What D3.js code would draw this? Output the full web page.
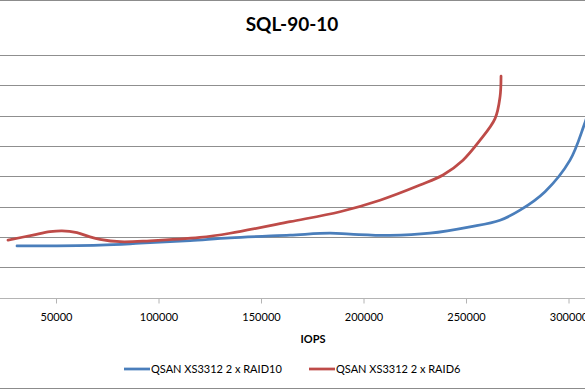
<!DOCTYPE html>
<html>
<head>
<meta charset="utf-8">
<script src="https://d3js.org/d3.v7.min.js"></script>
<style>
  body { margin: 0; background: #fff; }
  svg { display: block; font-family: Lato, "Open Sans", sans-serif; }
</style>
</head>
<body>
<div id="chart"></div>
<script>
// Data (IOPS vs response time)
const raid10Iops = [30975, 71460, 90980, 115360, 134880, 164150, 183660, 193420, 212930, 232440, 251950, 266600, 276350, 288550, 300740, 307570, 311470]
const raid10Vals = [1.70, 1.73, 1.79, 1.88, 1.97, 2.06, 2.12, 2.09, 2.05, 2.12, 2.33, 2.55, 2.88, 3.49, 4.53, 5.68, 6.5]
const raid6Iops = [26585, 38780, 47070, 52930, 60240, 66580, 71460, 81220, 95850, 120240, 134880, 164150, 188540, 208060, 227570, 238790, 248520, 256400, 264160, 266600, 267090]
const raid6Vals = [1.89, 2.06, 2.17, 2.20, 2.14, 2.00, 1.92, 1.84, 1.87, 1.98, 2.12, 2.50, 2.83, 3.21, 3.71, 4.04, 4.53, 5.15, 5.90, 6.62, 7.30]
const xTicks = [50000, 100000, 150000, 200000, 250000, 300000]
const yGrid = [1, 2, 3, 4, 5, 6, 7, 8]
const seriesNames = ["QSAN XS3312 2 x RAID10", "QSAN XS3312 2 x RAID6"]
const seriesColors = ["#4a7ebb", "#be4b48"]

const series = [
  { name: seriesNames[0], color: seriesColors[0], pts: raid10Iops.map((x, i) => [x, raid10Vals[i]]) },
  { name: seriesNames[1], color: seriesColors[1], pts: raid6Iops.map((x, i) => [x, raid6Vals[i]]) }
]

const width = 585, height = 390

// the plot area starts left of the visible window (y axis cropped off)
const plot = { left: -46.5, right: 671, top: 55, bottom: 297.5 }

const svg = d3.select("#chart")
  .append("svg")
  .attr("width", width)
  .attr("height", height)

const x = d3.scaleLinear()
  .domain([0, 350000])
  .range([plot.left, plot.right])

const y = d3.scaleLinear()
  .domain([0, 8])
  .range([plot.bottom, plot.top])

// frame lines
svg.append("line")
  .attr("x1", 0).attr("x2", width)
  .attr("y1", 0.5).attr("y2", 0.5)
  .attr("stroke", "#8c8c8c")
svg.append("line")
  .attr("x1", 0).attr("x2", width)
  .attr("y1", height - 1.5).attr("y2", height - 1.5)
  .attr("stroke", "#8c8c8c")

// title
svg.append("text")
  .attr("x", 292)
  .attr("y", 31)
  .attr("text-anchor", "middle")
  .attr("font-size", 19)
  .attr("font-weight", "bold")
  .attr("fill", "#000")
  .text("SQL-90-10")

// gridlines
svg.append("g")
  .selectAll("line")
  .data(yGrid)
  .join("line")
  .attr("x1", 0).attr("x2", width)
  .attr("y1", d => Math.round(y(d)) + 0.5)
  .attr("y2", d => Math.round(y(d)) + 0.5)
  .attr("stroke", "#8f8f8f")
  .attr("stroke-width", 1)

// x axis
const xAxis = svg.append("g")
  .attr("transform", `translate(0, ${Math.round(plot.bottom) + 0.5})`)
  .call(d3.axisBottom(x).tickValues(xTicks).tickSize(5).tickPadding(10).tickFormat(d3.format("d")))
xAxis.select(".domain").remove()
xAxis.insert("line", ":first-child")
  .attr("x1", 0).attr("x2", width)
  .attr("stroke", "#b4b4b4")
xAxis.selectAll(".tick line").attr("stroke", "#b4b4b4")
xAxis.selectAll(".tick text")
  .attr("font-size", 11)
  .attr("font-family", "Lato, sans-serif")
  .attr("fill", "#000")

svg.append("text")
  .attr("x", 313)
  .attr("y", 343)
  .attr("text-anchor", "middle")
  .attr("font-size", 11)
  .attr("font-weight", "bold")
  .text("IOPS")

// lines
const line = d3.line()
  .x(d => x(d[0]))
  .y(d => y(d[1]))
  .curve(d3.curveCatmullRom.alpha(0.5))

svg.append("g")
  .selectAll("path")
  .data(series)
  .join("path")
  .attr("d", d => line(d.pts))
  .attr("fill", "none")
  .attr("stroke", d => d.color)
  .attr("stroke-width", 2.75)
  .attr("stroke-linecap", "round")

// legend
const legendX = [124, 309]
const legend = svg.append("g")
  .selectAll("g")
  .data(series)
  .join("g")
  .attr("transform", (d, i) => `translate(${legendX[i]}, 369)`)
legend.append("line")
  .attr("x1", 0).attr("x2", 26)
  .attr("stroke", d => d.color)
  .attr("stroke-width", 2.75)
legend.append("text")
  .attr("x", 27)
  .attr("y", 4)
  .attr("font-size", 11)
  .attr("fill", "#000")
  .text(d => d.name)
</script>
</body>
</html>
